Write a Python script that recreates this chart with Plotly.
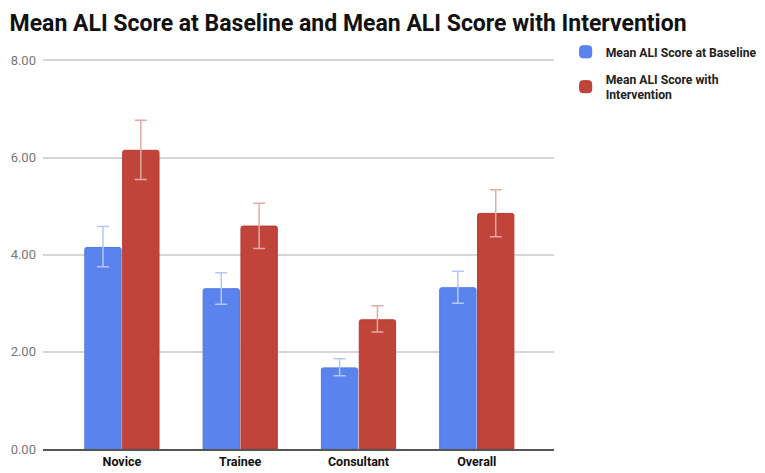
import plotly.graph_objects as go

categories = ["Novice", "Trainee", "Consultant", "Overall"]

baseline = [4.15, 3.30, 1.67, 3.32]
baseline_plus = [0.43, 0.33, 0.19, 0.34]
baseline_minus = [0.40, 0.32, 0.16, 0.32]

intervention = [6.15, 4.59, 2.66, 4.85]
intervention_plus = [0.62, 0.47, 0.29, 0.49]
intervention_minus = [0.60, 0.46, 0.25, 0.48]

y_ticks = [0, 2, 4, 6, 8]
y_labels = ["0.00", "2.00", "4.00", "6.00", "8.00"]

blue = "#5a83ee"
red = "#c0443a"

fig = go.Figure()
fig.add_trace(go.Bar(
    x=categories, y=baseline, name="Mean ALI Score at Baseline",
    legendgroup="a",
    marker=dict(color=blue, line=dict(color="#4f78e6", width=1)),
    error_y=dict(type="data", symmetric=False, array=baseline_plus,
                 arrayminus=baseline_minus, color="#b3c7f6",
                 thickness=1.5, width=6),
))
fig.add_trace(go.Bar(
    x=categories, y=intervention, name="Mean ALI Score with<br>Intervention",
    legendgroup="b",
    marker=dict(color=red, line=dict(color="#b53b32", width=1)),
    error_y=dict(type="data", symmetric=False, array=intervention_plus,
                 arrayminus=intervention_minus, color="#e3aaa3",
                 thickness=1.5, width=6),
))

fig.update_layout(
    width=765, height=473,
    title=dict(text="<b>Mean ALI Score at Baseline and Mean ALI Score with Intervention</b>",
               x=0.002, xanchor="left", y=0.985, yanchor="top",
               font=dict(family="Roboto", size=23, color="#111111")),
    font=dict(family="Roboto", color="#222222"),
    plot_bgcolor="white", paper_bgcolor="white",
    margin=dict(l=35, r=200, t=51, b=22),
    barmode="group", bargap=0.36, bargroupgap=0.04,
    barcornerradius=2,
    legend=dict(xref="container", yref="container", x=0.729, y=0.938,
                xanchor="left", yanchor="top",
                font=dict(size=12.2, color="#222222", family="Roboto", weight="bold"),
                tracegroupgap=8, itemwidth=30),
    xaxis=dict(range=[-0.667, 3.65], showgrid=False, showline=True,
               linecolor="#555555", linewidth=1.5, ticks="",
               tickfont=dict(size=12.5, color="#111111", weight="bold")),
    yaxis=dict(range=[0, 8.03], tickvals=y_ticks, ticktext=y_labels,
               showgrid=True, gridcolor="#d6d6d6", gridwidth=1.5,
               zeroline=False, ticks="", ticklabelstandoff=6,
               automargin=False,
               tickfont=dict(size=13, color="#777777")),
)

fig.write_html("out.html")
